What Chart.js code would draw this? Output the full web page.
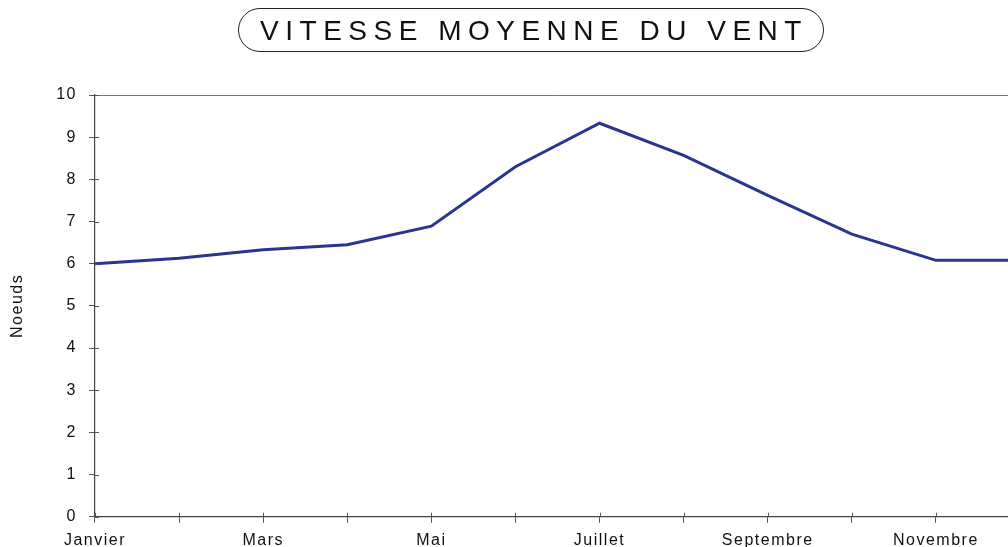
<!DOCTYPE html>
<html>
<head>
<meta charset="utf-8">
<script src="https://cdn.jsdelivr.net/npm/chart.js@4/dist/chart.umd.min.js"></script>
<style>
  html, body { margin: 0; padding: 0; background: #fff; overflow: hidden; }
  #wrap { position: absolute; left: 0; top: 0; width: 1032px; height: 558px; }
  #titre {
    position: absolute; left: 238px; top: 8px; width: 578px; height: 42px;
    border: 1.5px solid #222; border-radius: 22px;
    font: 28px "Liberation Sans", Arial, sans-serif; color: #111;
    letter-spacing: 6.5px; padding-left: 6px; box-sizing: content-box;
    text-align: center; line-height: 43px; white-space: nowrap;
  }
</style>
</head>
<body>
<div id="wrap"><canvas id="mychart"></canvas></div>
<div id="titre">VITESSE MOYENNE DU VENT</div>
<script>
// months (only every other one is labelled on the axis)
const mois = ['Janvier', 'Février', 'Mars', 'Avril', 'Mai', 'Juin',
              'Juillet', 'Août', 'Septembre', 'Octobre', 'Novembre', 'Décembre'];
// average wind speed, knots
const vitesse = [6.0, 6.13, 6.33, 6.45, 6.89, 8.3, 9.33, 8.57, 7.62, 6.7, 6.08, 6.08];
const yTicks = [0, 1, 2, 3, 4, 5, 6, 7, 8, 9, 10];

// small tick marks drawn across the axes (inside part)
const croix = {
    id: 'croix',
    beforeDraw(chart) {
        chart.ctx.letterSpacing = '1.5px';
    },
    afterDraw(chart) {
        const ctx = chart.ctx, a = chart.chartArea;
        const x = chart.scales.x, y = chart.scales.y;
        ctx.save();
        ctx.strokeStyle = '#555';
        ctx.lineWidth = 1;
        ctx.beginPath();
        yTicks.forEach(v => {
            const py = Math.round(y.getPixelForValue(v)) + 0.5;
            ctx.moveTo(a.left, py); ctx.lineTo(a.left + 4, py);
        });
        mois.forEach((m, i) => {
            const px = Math.round(x.getPixelForValue(i)) + 0.5;
            ctx.moveTo(px, a.bottom); ctx.lineTo(px, a.bottom - 4);
        });
        ctx.stroke();
        ctx.restore();
    }
};

const ctx = document.getElementById('mychart').getContext('2d');
const chart = new Chart(ctx, {
    type: 'line',
    data: {
        labels: mois,
        datasets: [{
            data: vitesse,
            borderColor: '#2a3590',
            borderWidth: 3,
            pointRadius: 0,
            tension: 0,
            fill: false
        }]
    },
    options: {
        responsive: true,
        maintainAspectRatio: false,
        animation: false,
        layout: { padding: { top: 95, right: 12, left: 8, bottom: 0 } },
        plugins: {
            legend: { display: false },
            title: { display: false },
            tooltip: { enabled: false }
        },
        scales: {
            x: {
                offset: false,
                border: { color: '#444', width: 1.2 },
                grid: { drawOnChartArea: false, tickLength: 6, color: '#555' },
                ticks: {
                    autoSkip: false, maxRotation: 0, padding: 8,
                    color: '#111',
                    font: { family: 'Liberation Sans', size: 16 },
                    callback: (v, i) => i % 2 === 0 ? mois[i] : ''
                }
            },
            y: {
                min: 0, max: 10,
                afterBuildTicks: s => { s.ticks = yTicks.map(v => ({ value: v })); },
                border: { color: '#444', width: 1.2 },
                grid: {
                    drawOnChartArea: true, tickLength: 6,
                    color: c => c.tick && c.tick.value === 10 ? '#777' : 'rgba(0,0,0,0)',
                    tickColor: '#555'
                },
                ticks: {
                    padding: 12, color: '#111',
                    font: { family: 'Liberation Sans', size: 16 }
                },
                title: {
                    display: true, text: 'Noeuds', color: '#111',
                    font: { family: 'Liberation Sans', size: 16 },
                    padding: { top: 0, bottom: 20 }
                }
            }
        }
    },
    plugins: [croix]
});
</script>
</body>
</html>
